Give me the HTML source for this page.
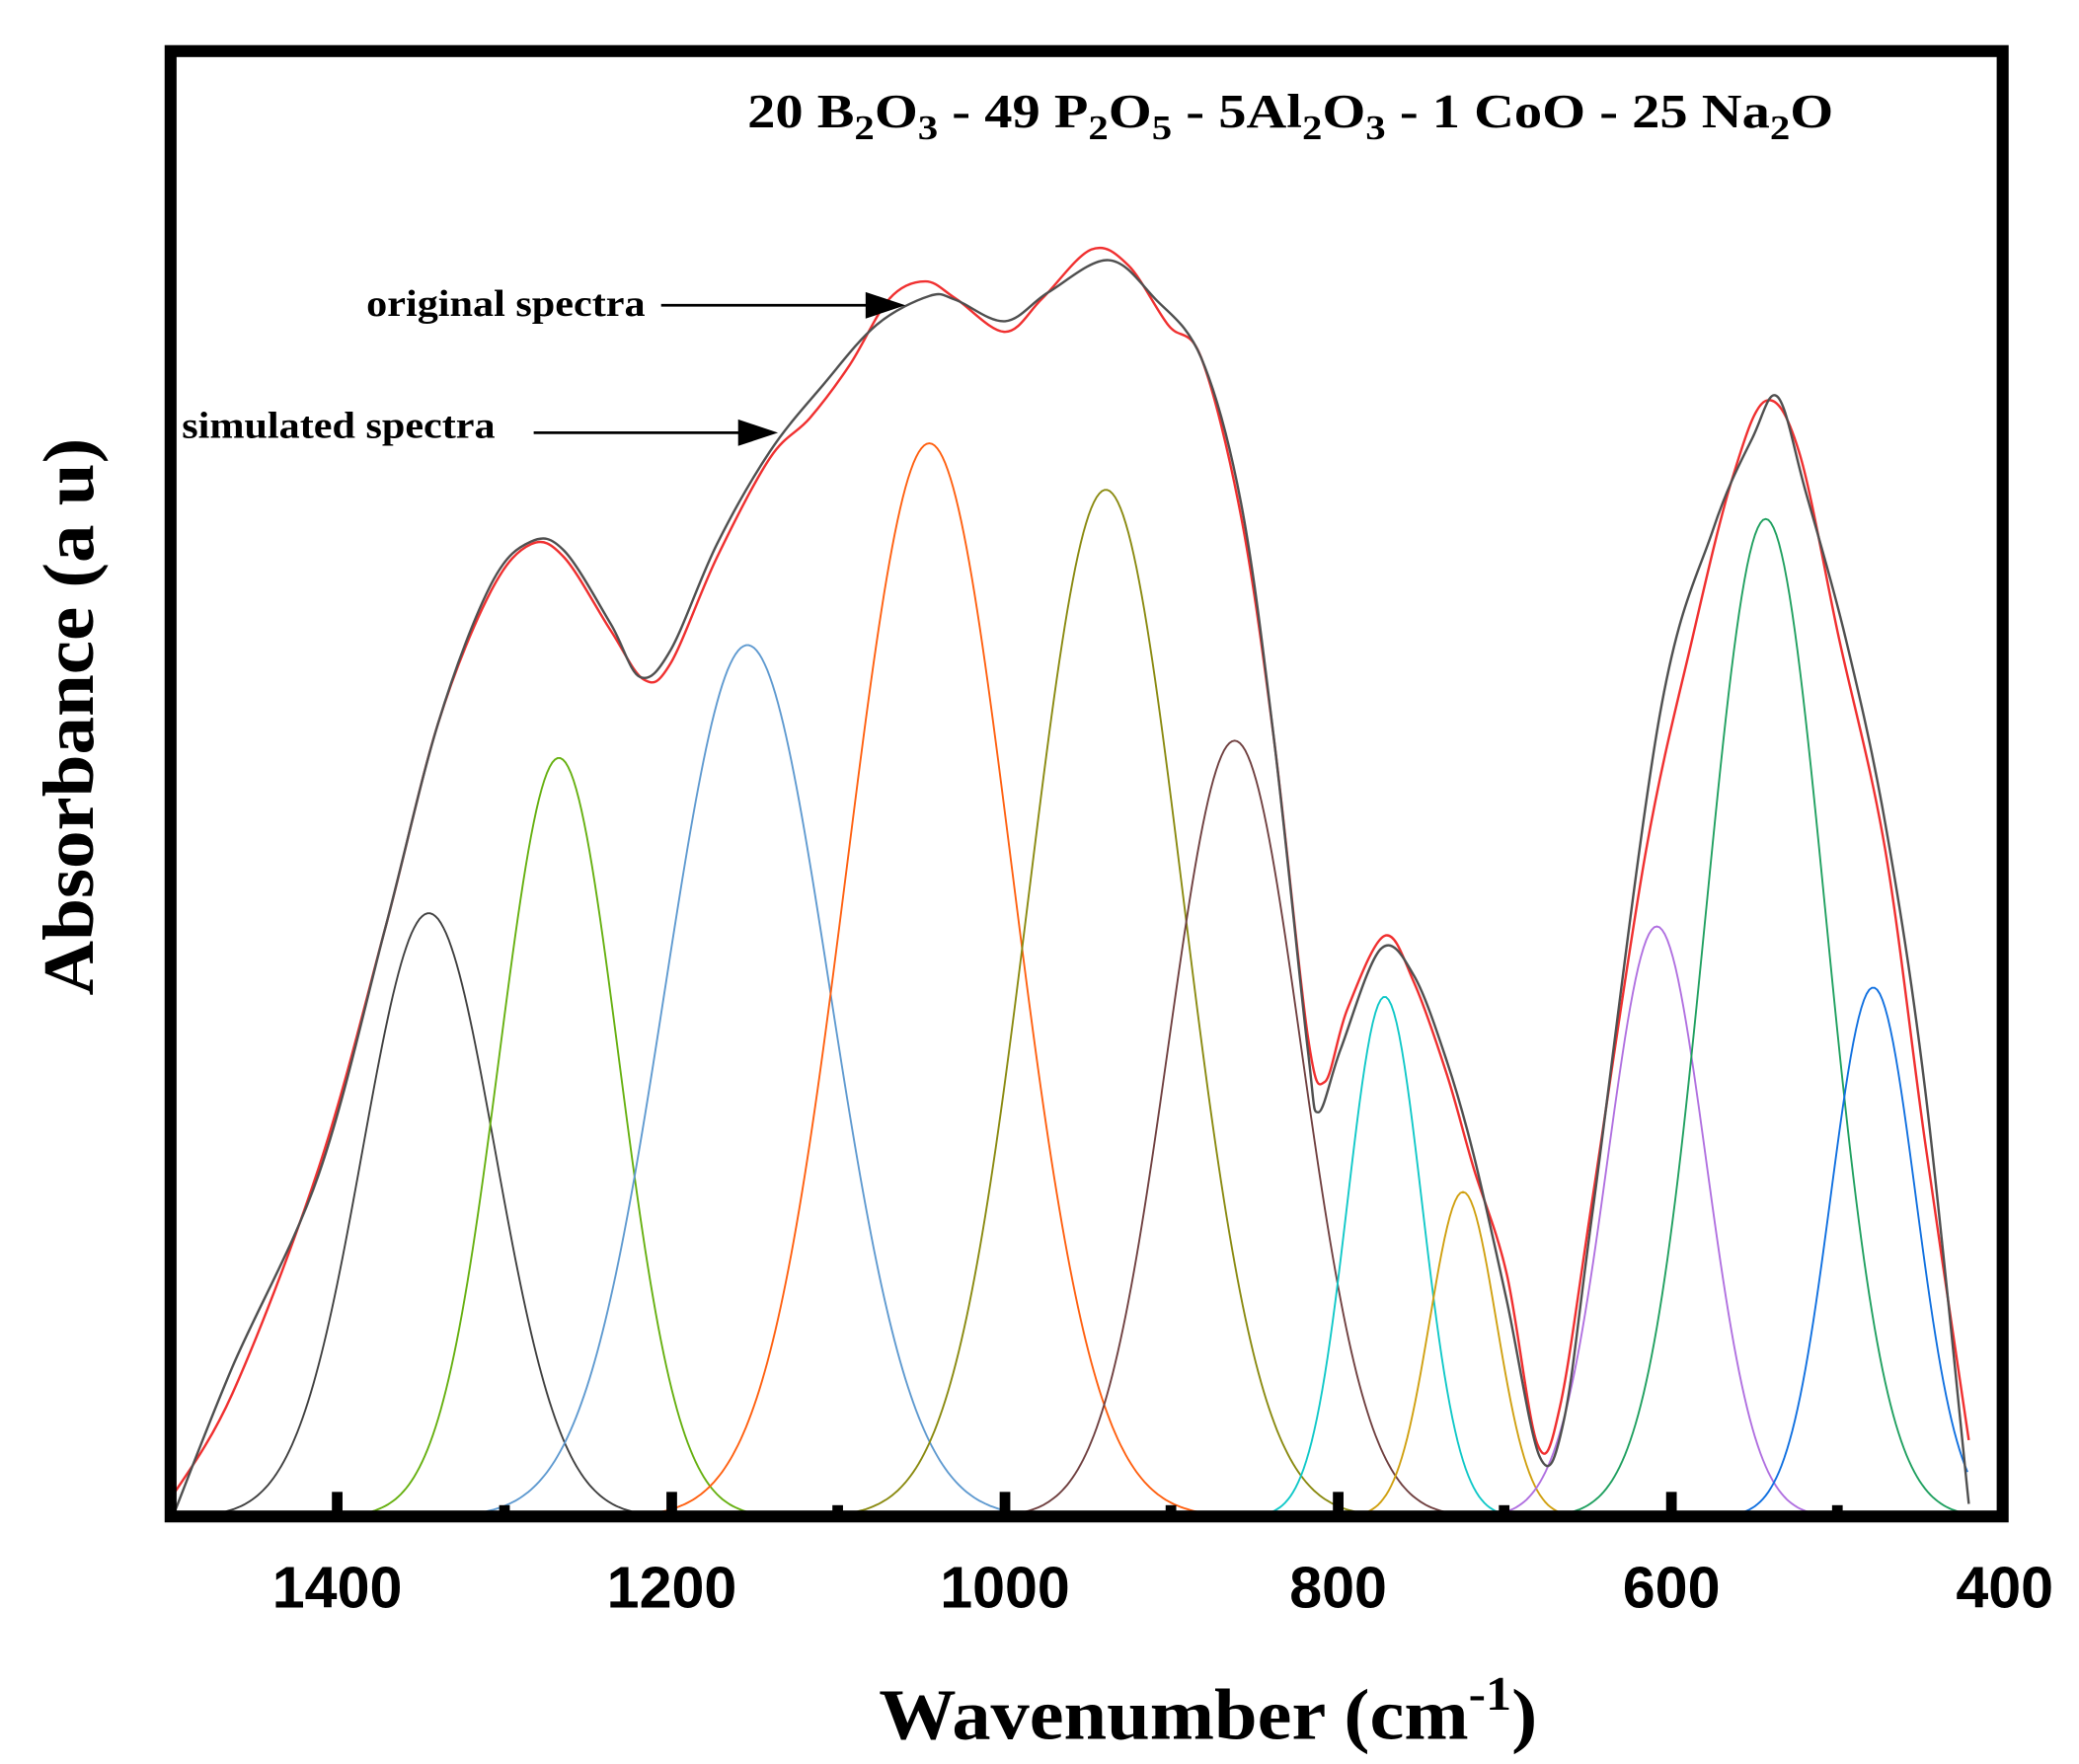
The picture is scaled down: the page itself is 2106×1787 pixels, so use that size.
<!DOCTYPE html>
<html><head><meta charset="utf-8">
<style>html,body{margin:0;padding:0;background:#fff;}svg{display:block}</style>
</head><body>
<svg id="s" width="2106" height="1787" viewBox="0 0 1566 1329" preserveAspectRatio="none" xmlns="http://www.w3.org/2000/svg">
<rect x="0" y="0" width="1566" height="1329" fill="#fff"/>
<g id="comps" fill="none" stroke-width="1.4"></g>
<path id="red" fill="none" stroke="#f03030" stroke-width="1.8"/>
<path id="blk" fill="none" stroke="#505050" stroke-width="1.8"/>
<rect x="128.5" y="38.5" width="1380" height="1104" fill="none" stroke="#000" stroke-width="9"/>
<g fill="#000">
<rect x="250" y="1124" width="8" height="18"/><rect x="502" y="1124" width="8" height="18"/><rect x="753" y="1124" width="8" height="18"/><rect x="1004" y="1124" width="8" height="18"/><rect x="1255" y="1124" width="8" height="18"/>
<rect x="376" y="1134" width="8" height="8"/><rect x="627" y="1134" width="8" height="8"/><rect x="878" y="1134" width="8" height="8"/><rect x="1129" y="1134" width="8" height="8"/><rect x="1380" y="1134" width="8" height="8"/>
</g>
<g font-family="Liberation Sans, sans-serif" font-weight="bold" font-size="44" text-anchor="middle">
<text x="254" y="1211">1400</text><text x="506" y="1211">1200</text><text x="757" y="1211">1000</text><text x="1008" y="1211">800</text><text x="1259" y="1211">600</text><text x="1510" y="1211">400</text>
</g>
<g font-family="Liberation Serif, serif" font-weight="bold">
<text x="662" y="1310" font-size="54" textLength="496" lengthAdjust="spacingAndGlyphs">Wavenumber (cm<tspan dy="-22" font-size="36">-1</tspan><tspan dy="22">)</tspan></text>
<text transform="translate(70,750) rotate(-90)" font-size="54" textLength="420" lengthAdjust="spacingAndGlyphs">Absorbance (a u)</text>
<text x="563" y="96" font-size="36" textLength="818" lengthAdjust="spacingAndGlyphs">20 B<tspan dy="9" font-size="26">2</tspan><tspan dy="-9">O</tspan><tspan dy="9" font-size="26">3</tspan><tspan dy="-9"> - 49 P</tspan><tspan dy="9" font-size="26">2</tspan><tspan dy="-9">O</tspan><tspan dy="9" font-size="26">5</tspan><tspan dy="-9"> - 5Al</tspan><tspan dy="9" font-size="26">2</tspan><tspan dy="-9">O</tspan><tspan dy="9" font-size="26">3</tspan><tspan dy="-9"> - 1 CoO - 25 Na</tspan><tspan dy="9" font-size="26">2</tspan><tspan dy="-9">O</tspan></text>
<text x="276" y="238" font-size="28" textLength="210" lengthAdjust="spacingAndGlyphs">original spectra</text>
<text x="137" y="330" font-size="28" textLength="236" lengthAdjust="spacingAndGlyphs">simulated spectra</text>
</g>
<g stroke="#000" stroke-width="2"><line x1="498" y1="230" x2="660" y2="230"/><line x1="402" y1="326" x2="562" y2="326"/></g>
<g fill="#000"><polygon points="652,220 682,230 652,240"/><polygon points="556,316 586,326 556,336"/></g>
</svg>
<script>
var B=1143;
var comps=[[323,688,50,"#404040"],[421,571,45,"#66b010"],[563,486,62,"#5f9ad0"],[700,334,62,"#ff6010"],[833,369,58,"#8a8a10"],[930,558,50,"#704040"],[1043,751,28,"#10c8c8"],[1102,898,25,"#d0a010"],[1248,698,37,"#b070e0"],[1330,391,45,"#20a060"],[1411,744,32,"#1070e0"]];
var g=document.getElementById('comps');
comps.forEach(function(c){var d="";for(var x=130;x<=1483;x+=2){var y=B-(B-c[1])*Math.exp(-Math.pow(x-c[0],2)/(2*c[2]*c[2]));d+=(d?"L":"M")+x+","+y.toFixed(1);}
var p=document.createElementNS("http://www.w3.org/2000/svg","path");p.setAttribute("d",d);p.setAttribute("stroke",c[3]);g.appendChild(p);});
function cr(P){var d="M"+P[0][0]+","+P[0][1];for(var i=0;i<P.length-1;i++){var p0=P[i-1]||P[i],p1=P[i],p2=P[i+1],p3=P[i+2]||p2;
d+="C"+(p1[0]+(p2[0]-p0[0])/6).toFixed(1)+","+(p1[1]+(p2[1]-p0[1])/6).toFixed(1)+" "+(p2[0]-(p3[0]-p1[0])/6).toFixed(1)+","+(p2[1]-(p3[1]-p1[1])/6).toFixed(1)+" "+p2[0]+","+p2[1];}return d;}
var red=[[128,1130],[175,1050],[240,880],[290,700],[330,545],[370,445],[400,410],[425,420],[460,475],[485,512],[505,500],[540,420],[580,345],[610,315],[640,275],[670,225],[697,212],[720,225],[757,250],[785,225],[822,188],[850,200],[880,245],[905,270],[935,390],[960,560],[985,780],[998,815],[1015,760],[1043,705],[1065,740],[1090,810],[1110,880],[1135,960],[1158,1088],[1175,1060],[1200,900],[1240,640],[1275,480],[1305,360],[1330,302],[1355,340],[1385,480],[1420,640],[1450,860],[1483,1085]];
var blk=[[130,1143],[175,1030],[240,885],[290,700],[330,545],[370,440],[400,408],[425,415],[460,470],[482,510],[505,490],[540,410],[580,340],[620,290],[660,245],[700,223],[720,226],[757,242],[790,220],[835,196],[870,225],[905,270],[935,380],[960,560],[985,790],[993,838],[1010,790],[1040,715],[1065,735],[1090,800],[1110,870],[1135,980],[1160,1098],[1178,1070],[1200,910],[1250,540],[1290,400],[1320,330],[1339,299],[1360,370],[1390,480],[1420,620],[1450,820],[1483,1133]];
document.getElementById('red').setAttribute('d',cr(red));
document.getElementById('blk').setAttribute('d',cr(blk));
</script>
</body></html>
